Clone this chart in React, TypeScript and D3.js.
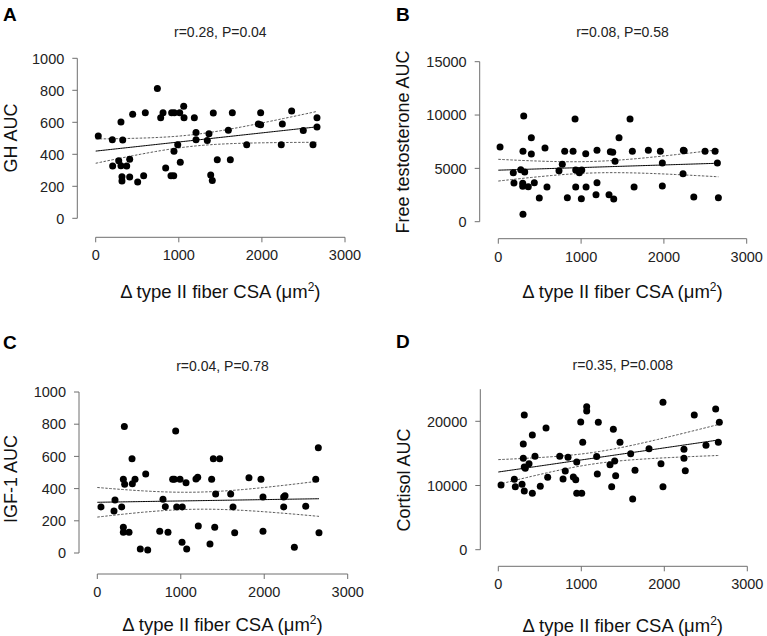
import React from 'react';
import * as d3 from 'd3';

// [delta type II fiber CSA (um2), hormone AUC]
const ghPoints = [
  [31, 514], [200, 491], [325, 489], [304, 602], [445, 650], [597, 660], [742, 812], [810, 660],
  [782, 629], [914, 660], [946, 660], [1011, 660], [1059, 700], [1063, 629], [1187, 629], [1415, 658],
  [1644, 660], [1985, 660], [2358, 670], [2663, 629], [2663, 571], [2498, 548], [2246, 590], [1957, 590],
  [1985, 585], [1596, 550], [1363, 529], [1207, 537], [1207, 491], [1343, 487], [987, 460], [942, 419],
  [1018, 350], [842, 314], [906, 266], [939, 266], [1384, 271], [1403, 237], [1463, 366], [1620, 366],
  [1817, 460], [2233, 460], [2615, 460], [204, 327], [277, 360], [304, 329], [373, 327], [409, 369],
  [316, 260], [316, 233], [409, 258], [505, 227], [577, 266],
];

const testosteronePoints = [
  [21, 7003], [307, 9909], [298, 6600], [399, 7875], [399, 6347], [564, 6909], [802, 6600], [903, 6600],
  [927, 9628], [1056, 6375], [1192, 6694], [1353, 6550], [1382, 6520], [1458, 7875], [1591, 9628],
  [1619, 6600], [1812, 6694], [1957, 6600], [2235, 6694], [2245, 6650], [2497, 6600], [2618, 6600],
  [2646, 5503], [1981, 5503], [2231, 4500], [1410, 5662], [773, 5381], [733, 4781], [935, 4847],
  [1008, 4847], [979, 4594], [271, 4875], [319, 4660], [181, 4594], [189, 3628], [295, 3600], [295, 3319],
  [362, 3281], [435, 3656], [588, 3253], [495, 2222], [834, 2250], [935, 3253], [1003, 2156], [1060, 3253],
  [1192, 3656], [1180, 2531], [1337, 2531], [1394, 2128], [1640, 3253], [1981, 3347], [2361, 2316],
  [2658, 2250], [298, 694],
];

const igf1Points = [
  [44, 286], [212, 329], [200, 261], [292, 286], [324, 785], [312, 458], [328, 427], [416, 586],
  [420, 430], [452, 458], [580, 491], [312, 160], [312, 129], [380, 129], [515, 25], [604, 19],
  [748, 135], [787, 334], [815, 288], [847, 129], [939, 758], [903, 458], [923, 458], [991, 458],
  [1063, 437], [951, 286], [1018, 286], [1015, 66], [1071, 25], [1182, 460], [1203, 470], [1210, 168],
  [1350, 56], [1370, 458], [1390, 586], [1466, 586], [1418, 366], [1407, 160], [1598, 366], [1626, 286],
  [1646, 126], [1817, 468], [1961, 458], [1985, 348], [1985, 135], [2233, 348], [2249, 356], [2233, 286],
  [2361, 35], [2497, 290], [2617, 458], [2648, 654], [2656, 126],
];

const cortisolPoints = [
  [313, 20990], [1065, 22285], [1065, 21614], [1984, 22970], [2619, 21926], [2361, 20990], [2663, 19850],
  [993, 19900], [1205, 19850], [575, 18965], [1386, 18760], [410, 17875], [301, 16470], [1017, 16735],
  [1466, 16735], [2651, 16735], [2502, 16270], [1816, 15740], [2237, 15645], [1595, 14960], [301, 14240],
  [442, 14550], [740, 14550], [840, 14400], [1185, 14500], [2237, 14240], [370, 13400], [313, 12890],
  [325, 12680], [945, 13665], [1346, 13250], [1402, 13820], [1960, 13400], [807, 12265], [1647, 12370],
  [2253, 12310], [595, 11280], [780, 11020], [904, 11330], [933, 10910], [1193, 11800], [1414, 11530],
  [193, 10970], [33, 10080], [205, 9820], [286, 10190], [506, 9880], [1366, 9820], [1984, 9820],
  [313, 9150], [410, 8790], [945, 8790], [1005, 8790], [1619, 7900],
];

// fitted line: [intercept, slope]
const ghFit = [420, 0.0569];
const testosteroneFit = [4830, 0.245];
const igf1Fit = [315, 0.0083];
const cortisolFit = [12100, 1.88];

// 95% band: [half width at x = 0, narrowest half width]
const ghBand = [76, 36];
const testosteroneBand = [1020, 540];
const igf1Band = [92, 53];
const cortisolBand = [1930, 900];

const xTicks = [0, 1000, 2000, 3000];
const ghTicks = [0, 200, 400, 600, 800, 1000];
const testosteroneTicks = [0, 5000, 10000, 15000];
const igf1Ticks = [0, 200, 400, 600, 800, 1000];
const cortisolTicks = [0, 10000, 20000];

const FONT = "'Liberation Sans', Arial, sans-serif";
const AXIS = '#6f6f6f';

function Panel({ p }: { p: any }) {
  const x = d3.scaleLinear().domain([0, 3000]).range([p.x0, p.x1]);
  const y = d3.scaleLinear().domain(p.yDomain).range([p.yb, p.yt]);
  const [a, b] = p.fit;
  const [h0, hMin] = p.band;
  const xc = d3.mean(p.data, (d: number[]) => d[0])!;
  const k = (h0 * h0 - hMin * hMin) / (xc * xc);
  const pred = (v: number) => a + b * v;
  const half = (v: number) => Math.sqrt(hMin * hMin + k * (v - xc) ** 2);
  const xMax = d3.max(p.data, (d: number[]) => d[0])!;
  const xs = d3.range(0, xMax, 20).concat([xMax]);
  const mid = d3.line<number>().x((v) => x(v)).y((v) => y(pred(v)));
  const up = d3.line<number>().x((v) => x(v)).y((v) => y(pred(v) + half(v)));
  const lo = d3.line<number>().x((v) => x(v)).y((v) => y(pred(v) - half(v)));
  const cx = (p.x0 + p.x1) / 2;
  return (
    <g fontFamily={FONT}>
      <text x={p.lx} y={p.ly} fontSize={19} fontWeight="bold" fill="#000">{p.letter}</text>
      <text x={cx} y={p.titleY} fontSize={14} textAnchor="middle" fill="#222">{p.title}</text>
      {/* y axis */}
      <line x1={p.ax} x2={p.ax} y1={y(p.yDomain[1])} y2={y(0)} stroke={AXIS} strokeWidth={1} />
      {p.yTicks.map((t: number) => (
        <g key={t}>
          <line x1={p.ax - 5} x2={p.ax} y1={y(t)} y2={y(t)} stroke={AXIS} />
          <text x={p.ax - 13} y={y(t)} dy="0.36em" fontSize={14.5} textAnchor="end" fill="#222">{t}</text>
        </g>
      ))}
      <text transform={`translate(${p.yLabelX},${p.yLabelY}) rotate(-90)`} fontSize={18} textAnchor="middle" fill="#111">
        {p.yLabel}
      </text>
      {/* x axis */}
      <line x1={x(0)} x2={x(3000)} y1={p.ay} y2={p.ay} stroke={AXIS} strokeWidth={1} />
      {xTicks.map((t) => (
        <g key={t}>
          <line x1={x(t)} x2={x(t)} y1={p.ay} y2={p.ay + 5} stroke={AXIS} />
          <text x={x(t)} y={p.ay + 23} fontSize={14.5} textAnchor="middle" fill="#222">{t}</text>
        </g>
      ))}
      <text x={cx} y={p.xLabelY} fontSize={18.5} textAnchor="middle" fill="#111">
        {'\u0394 type II fiber CSA (\u03bcm'}
        <tspan fontSize={12} dy={-7}>2</tspan>
        <tspan dy={7}>)</tspan>
      </text>
      {/* fit */}
      <path d={up(xs)!} fill="none" stroke="#555" strokeWidth={1} strokeDasharray="2.5,1.5" />
      <path d={lo(xs)!} fill="none" stroke="#555" strokeWidth={1} strokeDasharray="2.5,1.5" />
      <path d={mid(xs)!} fill="none" stroke="#000" strokeWidth={1} />
      {p.data.map((d: number[], i: number) => (
        <circle key={i} cx={x(d[0])} cy={y(d[1])} r={3.5} fill="#000" />
      ))}
    </g>
  );
}

const panels = [
  {
    letter: 'A', lx: 3, ly: 21, title: 'r=0.28, P=0.04', titleY: 37, data: ghPoints, fit: ghFit, band: ghBand,
    yDomain: [0, 1000], yTicks: ghTicks, yLabel: 'GH AUC', yLabelX: 17, yLabelY: 138,
    ax: 77.3, yt: 58.3, yb: 218.3, ay: 237.3, x0: 95.7, x1: 345, xLabelY: 297.5,
  },
  {
    letter: 'B', lx: 396, ly: 21, title: 'r=0.08, P=0.58', titleY: 37, data: testosteronePoints,
    fit: testosteroneFit, band: testosteroneBand,
    yDomain: [0, 15000], yTicks: testosteroneTicks, yLabel: 'Free testosterone AUC', yLabelX: 409, yLabelY: 142,
    ax: 479.7, yt: 61.7, yb: 221.7, ay: 238.7, x0: 498.3, x1: 746.7, xLabelY: 298,
  },
  {
    letter: 'C', lx: 3, ly: 349, title: 'r=0.04, P=0.78', titleY: 370.5, data: igf1Points, fit: igf1Fit, band: igf1Band,
    yDomain: [0, 1000], yTicks: igf1Ticks, yLabel: 'IGF-1 AUC', yLabelX: 17, yLabelY: 479,
    ax: 79, yt: 392, yb: 553, ay: 574, x0: 97.3, x1: 347.7, xLabelY: 631,
  },
  {
    letter: 'D', lx: 396, ly: 348, title: 'r=0.35, P=0.008', titleY: 370, data: cortisolPoints,
    fit: cortisolFit, band: cortisolBand,
    yDomain: [0, 25000], yTicks: cortisolTicks, yLabel: 'Cortisol AUC', yLabelX: 410, yLabelY: 480,
    ax: 480.3, yt: 389.2, yb: 549.7, ay: 566.3, x0: 498.3, x1: 747.3, xLabelY: 631.5,
  },
];

export default function App() {
  return (
    <svg width={767} height={636} style={{ position: 'absolute', left: 0, top: 0, background: '#fff' }}>
      {panels.map((p) => (
        <Panel key={p.letter} p={p} />
      ))}
    </svg>
  );
}
